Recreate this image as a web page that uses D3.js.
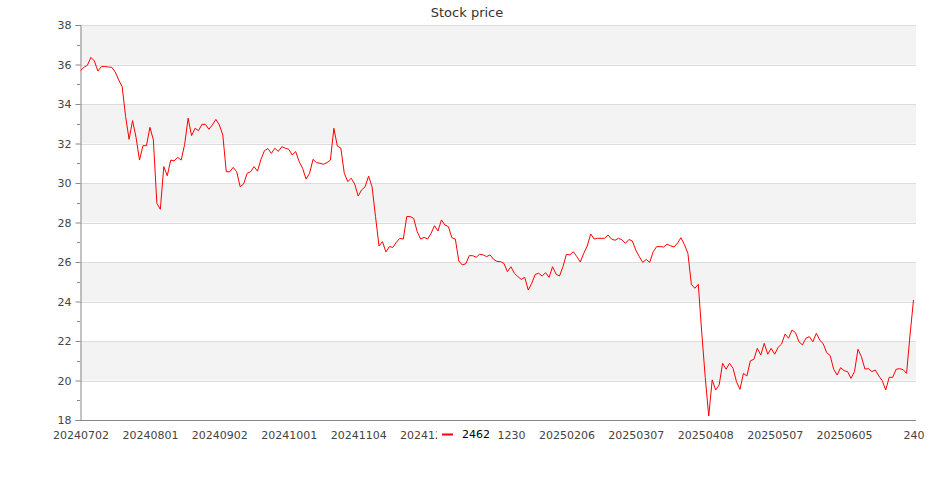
<!DOCTYPE html>
<html>
<head>
<meta charset="utf-8">
<script src="https://cdn.jsdelivr.net/npm/d3@7"></script>
<style>
  html, body { margin: 0; padding: 0; background: #fff; }
  svg { display: block; font-family: "DejaVu Sans", sans-serif; }
</style>
</head>
<body>
<svg id="chart" width="935" height="500"></svg>
<script>
const title = "Stock price";
const seriesName = "2462";
const prices = [
  35.69,35.86,35.97,36.36,36.18,35.67,35.89,35.90,35.87,35.86,
  35.62,35.22,34.88,33.36,32.21,33.16,32.31,31.16,31.89,31.89,
  32.82,32.18,28.97,28.67,30.83,30.37,31.16,31.12,31.30,31.16,
  31.95,33.28,32.40,32.77,32.65,32.97,32.97,32.72,32.94,33.22,
  32.94,32.43,30.57,30.57,30.79,30.57,29.81,29.95,30.49,30.57,
  30.83,30.60,31.20,31.64,31.74,31.50,31.76,31.60,31.84,31.76,
  31.71,31.42,31.59,31.08,30.74,30.20,30.49,31.20,31.03,31.00,
  30.95,31.03,31.16,32.77,31.87,31.77,30.49,30.07,30.24,29.95,
  29.34,29.65,29.81,30.35,29.81,28.30,26.81,27.03,26.51,26.78,
  26.74,27.00,27.20,27.16,28.30,28.30,28.21,27.54,27.16,27.25,
  27.16,27.45,27.84,27.57,28.13,27.87,27.79,27.23,27.16,26.05,
  25.85,25.91,26.32,26.32,26.24,26.39,26.36,26.27,26.36,26.14,
  26.03,26.02,25.93,25.51,25.76,25.43,25.26,25.12,25.22,24.58,
  24.92,25.37,25.43,25.29,25.46,25.22,25.76,25.39,25.29,25.76,
  26.39,26.36,26.52,26.27,26.00,26.44,26.81,27.42,27.16,27.20,
  27.20,27.20,27.37,27.16,27.10,27.20,27.12,26.95,27.14,27.06,
  26.60,26.27,25.98,26.13,25.98,26.52,26.78,26.78,26.76,26.90,
  26.82,26.76,26.95,27.23,26.88,26.44,24.87,24.67,24.87,22.40,
  20.15,18.20,20.03,19.52,19.77,20.87,20.57,20.87,20.62,19.94,
  19.55,20.36,20.23,21.00,21.07,21.63,21.29,21.88,21.33,21.63,
  21.33,21.68,21.85,22.35,22.14,22.56,22.42,21.96,21.80,22.14,
  22.22,21.96,22.39,22.05,21.85,21.41,21.26,20.57,20.28,20.65,
  20.50,20.45,20.11,20.45,21.58,21.20,20.58,20.60,20.45,20.53,
  20.23,19.99,19.52,20.16,20.16,20.57,20.60,20.55,20.36,22.30,
  24.08
];
const tickLabels = ["20240702","20240801","20240902","20241001","20241104","20241202",
  "20241230","20250206","20250307","20250408","20250507","20250605","240"];
const tickEvery = 20;
const yMin = 18, yMax = 38;

const svg = d3.select("#chart");
const pLeft = 80, pRight = 916, pTop = 25, pBottom = 420;

const x = d3.scaleLinear().domain([0, prices.length - 1]).range([80.5, 913.5]);
const y = d3.scaleLinear().domain([yMin, yMax]).range([pBottom, pTop]);

// alternating bands
const bandStarts = d3.range(yMin, yMax, 2).filter(v => ((v - yMin) / 2) % 2 === 1);
svg.append("g").selectAll("rect").data(bandStarts).join("rect")
  .attr("x", pLeft).attr("width", pRight - pLeft)
  .attr("y", d => y(d + 2)).attr("height", d => y(d) - y(d + 2))
  .attr("fill", "#f3f3f3");

// grid lines
const majors = d3.range(yMin, yMax + 0.001, 2);
svg.append("g").selectAll("line").data(majors.filter(v => v > yMin)).join("line")
  .attr("x1", pLeft).attr("x2", pRight)
  .attr("y1", d => Math.round(y(d)) + 0.5).attr("y2", d => Math.round(y(d)) + 0.5)
  .attr("stroke", "#dcdcdc").attr("stroke-width", 1);

// y axis
const yAxis = d3.axisLeft(y).tickValues(majors).tickFormat(d3.format("d")).tickSize(5).tickPadding(4);
const gy = svg.append("g").attr("transform", `translate(${pLeft + 0.5},0)`).call(yAxis);
gy.select(".domain").attr("stroke", "#888");
gy.selectAll(".tick line").attr("stroke", "#888");
gy.selectAll(".tick text").attr("fill", "#444").style("font-size", "11px").style("font-family", "DejaVu Sans");
const minors = d3.range(yMin + 1, yMax, 2);
svg.append("g").selectAll("line").data(minors).join("line")
  .attr("x1", pLeft - 3).attr("x2", pLeft)
  .attr("y1", d => Math.round(y(d)) + 0.5).attr("y2", d => Math.round(y(d)) + 0.5)
  .attr("stroke", "#888");

// x axis
const tickIdx = tickLabels.map((_, i) => i * tickEvery);
const xAxis = d3.axisBottom(x).tickValues(tickIdx)
  .tickFormat((d, i) => tickLabels[i]).tickSize(0).tickPadding(11);
const gx = svg.append("g").attr("transform", `translate(0,${pBottom + 0.5})`).call(xAxis);
gx.select(".domain").attr("stroke", "#888").attr("d", `M${pLeft},0H${pRight}`);
gx.selectAll(".tick text").attr("fill", "#444").style("font-size", "11px").style("font-family", "DejaVu Sans");

// line
const line = d3.line().x((d, i) => x(i)).y(d => y(d));
svg.append("path").datum(prices)
  .attr("d", line).attr("fill", "none").attr("stroke", "#ff0000").attr("stroke-width", 1);

// title
svg.append("text").attr("x", 467).attr("y", 17).attr("text-anchor", "middle")
  .attr("fill", "#333").style("font-size", "13px").text(title);

// legend
const lg = svg.append("g").attr("transform", "translate(437,424)");
lg.append("rect").attr("x", 0).attr("y", 0).attr("width", 60).attr("height", 22).attr("fill", "#fff");
lg.append("line").attr("x1", 5).attr("x2", 16).attr("y1", 10.5).attr("y2", 10.5)
  .attr("stroke", "#ff0000").attr("stroke-width", 2);
lg.append("text").attr("x", 25).attr("y", 14).attr("fill", "#000")
  .style("font-size", "11px").style("font-weight", "500").text(seriesName);
</script>
</body>
</html>
